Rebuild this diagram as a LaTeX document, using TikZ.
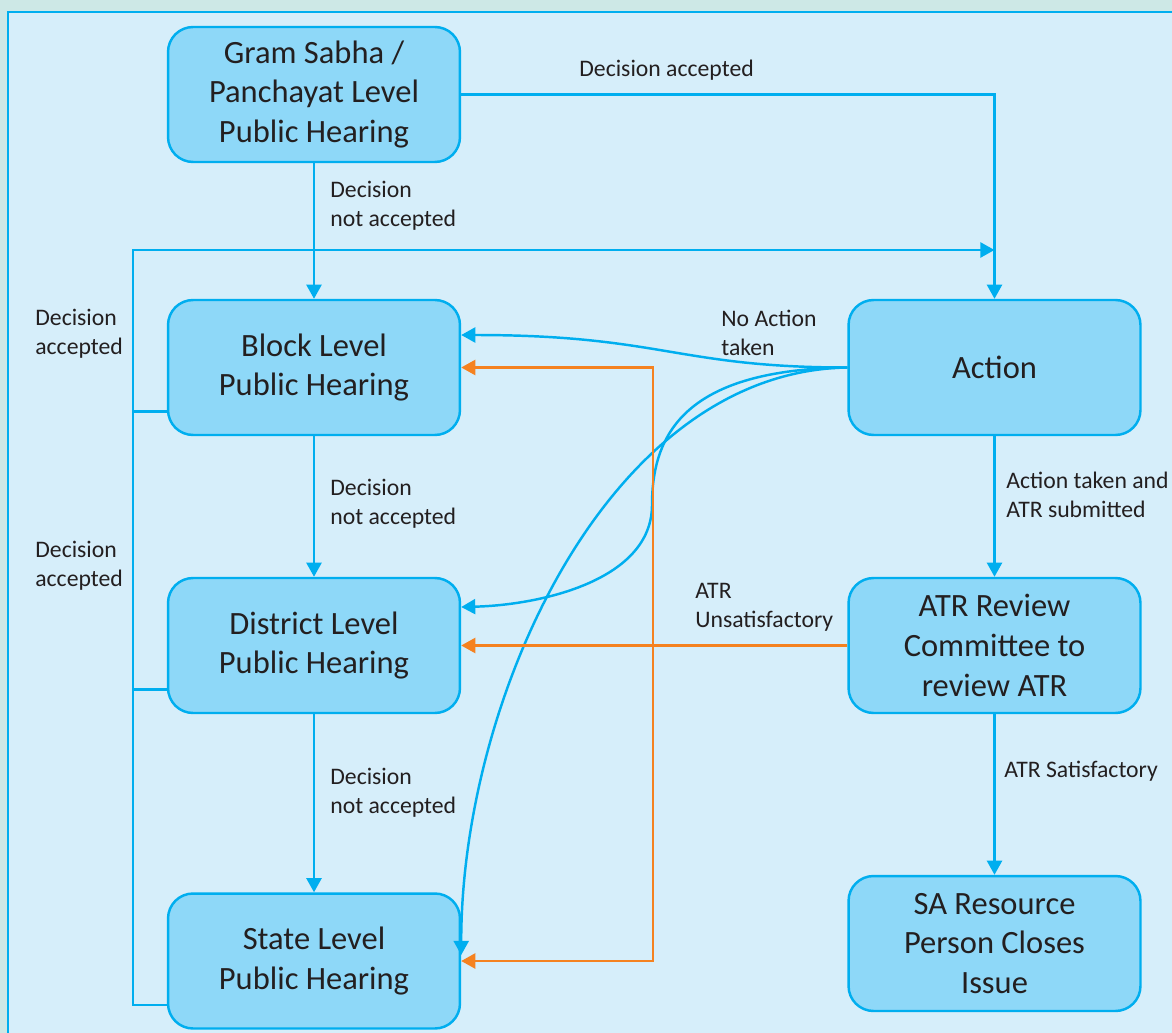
\documentclass[tikz,border=0pt]{standalone}
\usepackage{fontspec}
\setmainfont{Carlito}
\usetikzlibrary{arrows.meta,calc,positioning}
\definecolor{sablue}{HTML}{00AEEF}
\definecolor{saboxfill}{HTML}{8ED8F8}
\definecolor{sapanel}{HTML}{D6EEFA}
\definecolor{saouter}{HTML}{CDE8E6}
\definecolor{saorange}{HTML}{F58220}
\definecolor{satext}{HTML}{231F20}

\begin{document}
\begin{tikzpicture}[x=0.02cm,y=-0.02cm]

\tikzset{stagebox/.style={draw=sablue,fill=saboxfill,line width=1.4pt,rounded corners=0.5cm,minimum width=5.84cm,minimum height=2.7cm,align=center,text=satext,font=\fontsize{18.5}{22.6}\selectfont},
flow/.style={draw=sablue,line width=1.4pt},
fix/.style={draw=saorange,line width=1.4pt},
arrowed/.style={-{Triangle[length=8pt,width=8.5pt]}},
note/.style={font=\fontsize{13.5}{16.6}\selectfont,text=satext,align=left,anchor=west,inner sep=0pt}}

% Background and panel
\useasboundingbox (0,0) rectangle (1172,1033);
\fill[saouter] (0,0) rectangle (1172,1033);
\fill[sapanel] (8,12) rectangle (1172,1033);
\draw[sablue,line width=1.6pt] (1172,12) -- (8,12) -- (8,1033);

% Hearing levels
\node (gram) [stagebox] at (314,94.5) {Gram Sabha /\\Panchayat Level\\Public Hearing};
\node (blk) [stagebox] at (314,367.5) {Block Level\\Public Hearing};
\node (dst) [stagebox] at (314,645.5) {District Level\\Public Hearing};
\node (stt) [stagebox] at (314,961) {State Level\\Public Hearing};

% Action side
\node (act) [stagebox] at (994.5,367.5) {Action};
\node (atr) [stagebox] at (994.5,645.5) {ATR Review\\Committee to\\review ATR};
\node (sar) [stagebox] at (994.5,943.5) {SA Resource\\Person Closes\\Issue};

% Helper points
\coordinate (join) at (act.north |- 0,250);
\coordinate (kink) at (652,505);
\coordinate (split) at (653,645.5);

% Straight edges
\draw[flow,arrowed] (gram.east) -| (act.north);
\draw[flow,arrowed] (gram) -- (blk); \draw[flow,arrowed] (blk) -- (dst); \draw[flow,arrowed] (dst) -- (stt);
\draw[flow,arrowed] (act) -- (atr); \draw[flow,arrowed] (atr) -- (sar);

% Decision accepted loop
\foreach \n in {blk,dst} \draw[flow] ([yshift=-0.88cm]\n.west) -- ++(-34,0);
\draw[flow,arrowed] ([yshift=-0.88cm]stt.west) -- ++(-34,0) |- (join);

% No action taken curves
\draw[flow,arrowed] (act.west) .. controls +(-170,0) and +(200,0) .. ([yshift=0.65cm]blk.east);
\draw[flow,arrowed] (act.west) .. controls +(-158,2) and +(0,-75) .. (kink) .. controls +(0,75) and +(80,-2) .. ([yshift=0.77cm]dst.east);
\draw[flow,arrowed] (act.west) .. controls +(-240,4) and +(0,-255) .. ([yshift=0.12cm]stt.east);

% ATR unsatisfactory
\draw[fix,arrowed] (atr.west) -- (dst.east);
\draw[fix,arrowed] (split) |- (blk.east);
\draw[fix,arrowed] (split) |- (stt.east);

% Labels
\node[note] (l1) at (579,70) {Decision accepted};
\node[note] (l2) at (330,206) {Decision\\not accepted};
\node[note] (l3) at (330,503.5) {Decision\\not accepted};
\node[note] (l4) at (330,792.5) {Decision\\not accepted};
\node[note] (l5) at (35,333.5) {Decision\\accepted};
\node[note] (l6) at (35,565.5) {Decision\\accepted};
\node[note] (l7) at (721,332.5) {No Action\\taken};
\node[note] (l8) at (1006,494.5) {Action taken and\\ATR submitted};
\node[note] (l9) at (695,607.5) {ATR\\Unsatisfactory};
\node[note] (l10) at (1004,771) {ATR Satisfactory};

\end{tikzpicture}
\end{document}
